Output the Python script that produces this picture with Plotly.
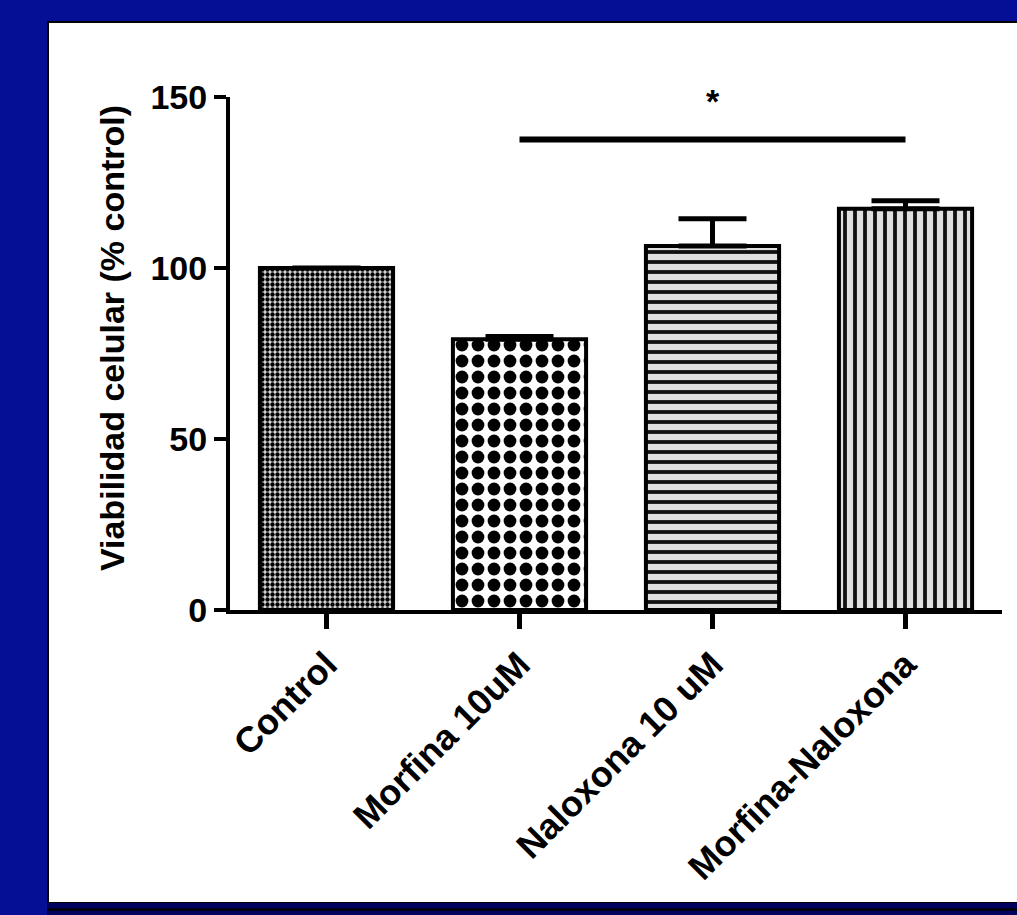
import plotly.graph_objects as go

# ---- data ----
categories = ["Control", "Morfina 10uM", "Naloxona 10 uM", "Morfina-Naloxona"]
viability = [100.0, 79.2, 106.4, 117.3]
error_up = [0.0, 0.8, 8.0, 2.4]
y_ticks = [0, 50, 100, 150]
sig_pair = ["Morfina 10uM", "Morfina-Naloxona"]
sig_level = [137.6, 137.6]
sig_label = "*"
y_title = "Viabilidad celular (% control)"

# ---- layout constants (pixels) ----
W, H = 1017, 915
ML, MR, MT, MB = 230, 15, 97, 305
PW, PH = W - ML - MR, H - MT - MB

def px_x(p):
    return (p - ML) / PW

def px_y(p):
    return (H - MB - p) / PH

BLUE = "#040f96"
FONT = "Liberation Sans, Arial, sans-serif"

patterns = [
    dict(shape=".", size=5, solidity=0.6, fgcolor="black", bgcolor="#dcdcdc", fillmode="replace"),
    dict(shape=".", size=16, solidity=0.5, fgcolor="black", bgcolor="#ffffff", fillmode="replace"),
    dict(shape="-", size=10, solidity=0.38, fgcolor="#111111", bgcolor="#e0e0e0", fillmode="replace"),
    dict(shape="|", size=10, solidity=0.38, fgcolor="#111111", bgcolor="#e0e0e0", fillmode="replace"),
]

fig = go.Figure()
for i, cat in enumerate(categories):
    fig.add_trace(go.Bar(
        x=[cat], y=[viability[i]],
        width=0.69,
        marker=dict(color="white", line=dict(color="black", width=4), pattern=patterns[i]),
        error_y=dict(type="data", symmetric=False, array=[error_up[i]], arrayminus=[0],
                     color="black", thickness=5, width=34, visible=True),
        showlegend=False,
    ))

fig.add_trace(go.Scatter(
    x=sig_pair, y=sig_level, mode="lines",
    line=dict(color="black", width=6), showlegend=False, cliponaxis=False,
))

fig.add_annotation(
    x=categories[2], y=150, xref="x", yref="y", text=sig_label, showarrow=False,
    font=dict(family=FONT, size=34, color="black", weight="bold"),
    yanchor="middle", yshift=-4,
)

# y-axis title as rotated text
fig.add_annotation(
    x=px_x(112), y=px_y(338), xref="paper", yref="paper", text=y_title,
    textangle=-90, showarrow=False, xanchor="center", yanchor="middle",
    font=dict(family=FONT, size=34, color="black", weight="bold"),
)

# white panel with border and bottom shadow
fig.add_shape(type="rect", xref="paper", yref="paper",
              x0=px_x(48), x1=px_x(1030), y0=px_y(903), y1=px_y(22),
              fillcolor="white", line=dict(color="black", width=2), layer="below")
fig.add_shape(type="rect", xref="paper", yref="paper",
              x0=px_x(47), x1=px_x(1030), y0=px_y(920), y1=px_y(903),
              fillcolor="#00005e", line=dict(width=0), layer="below")
fig.add_shape(type="line", xref="paper", yref="paper",
              x0=px_x(47), x1=px_x(1030), y0=px_y(909.5), y1=px_y(909.5),
              line=dict(color="black", width=2.5), layer="below")

fig.update_layout(
    width=W, height=H,
    margin=dict(l=ML, r=MR, t=MT, b=MB, autoexpand=False),
    paper_bgcolor=BLUE, plot_bgcolor="rgba(0,0,0,0)",
    barmode="overlay",
    font=dict(family=FONT, color="black"),
)
fig.update_xaxes(
    categoryorder="array", categoryarray=categories,
    range=[-0.5, 3.5], showgrid=False, zeroline=False,
    showline=True, linecolor="black", linewidth=4,
    ticks="outside", ticklen=15, tickwidth=5, tickcolor="black",
    tickangle=-45, tickfont=dict(family=FONT, size=36, weight="bold", color="black"),
    automargin=False,
)
fig.update_yaxes(
    range=[0, 150], tickvals=y_ticks, showgrid=False, zeroline=False,
    showline=True, linecolor="black", linewidth=4,
    ticks="outside", ticklen=12, tickwidth=4, tickcolor="black",
    tickfont=dict(family=FONT, size=34, weight="bold", color="black"),
    automargin=False,
)

fig.write_html("out.html")
